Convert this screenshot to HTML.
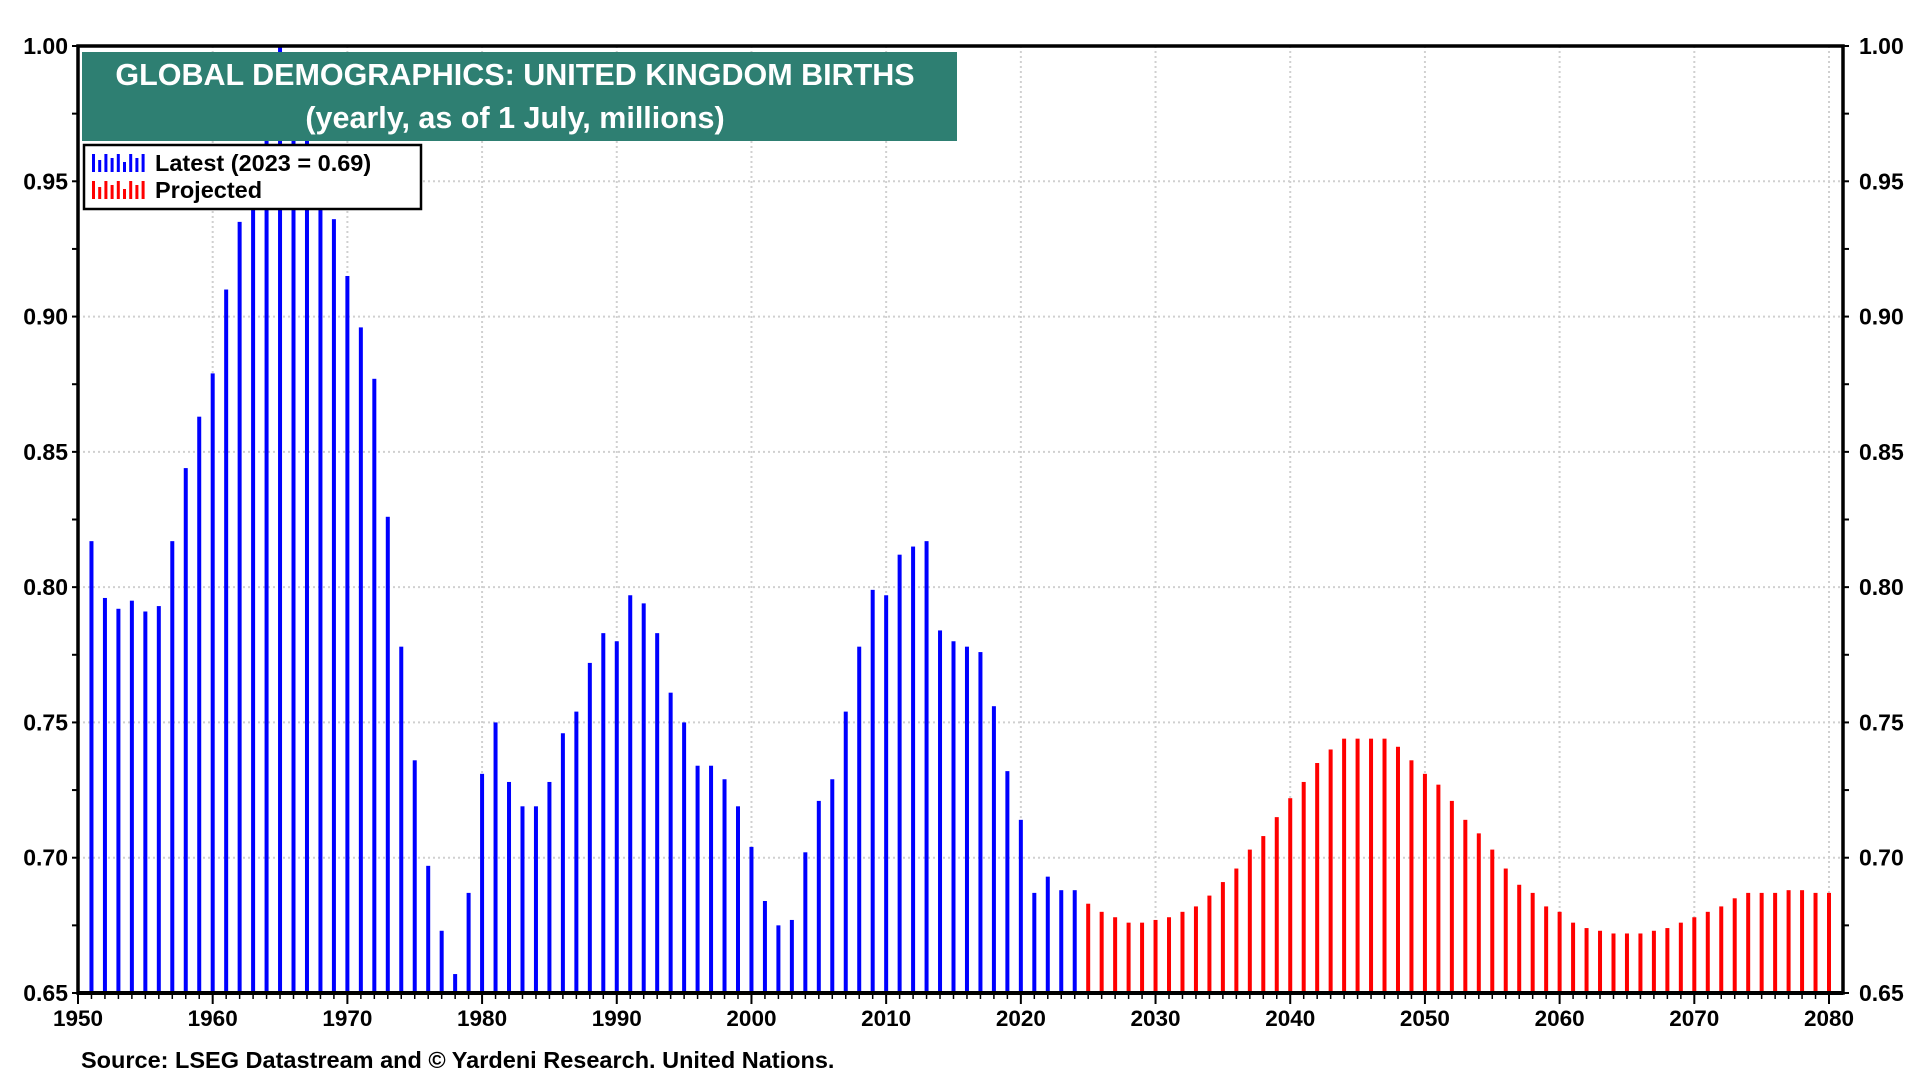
<!DOCTYPE html>
<html><head><meta charset="utf-8">
<style>
html,body{margin:0;padding:0;background:#fff;}
svg{display:block;font-family:"Liberation Sans",Arial,sans-serif;font-weight:bold;}
</style></head>
<body>
<svg id="chart" width="1920" height="1080" xmlns="http://www.w3.org/2000/svg">
<g id="grid"></g>
<g id="bars"></g>
<g id="axes"></g>
<g>
<rect x="82" y="52" width="875" height="89" fill="#2e7f72"/>
<text x="515" y="85" fill="#fff" font-size="30.5" text-anchor="middle">GLOBAL DEMOGRAPHICS: UNITED KINGDOM BIRTHS</text>
<text x="515" y="128" fill="#fff" font-size="30.5" text-anchor="middle">(yearly, as of 1 July, millions)</text>
</g>
<g>
<rect x="84" y="145" width="337" height="64" fill="#fff" stroke="#000" stroke-width="2.5"/>
<g id="legIcons"></g>
<text x="155" y="171" font-size="23.5">Latest (2023 = 0.69)</text>
<text x="155" y="198" font-size="23.5">Projected</text>
</g>
<text x="81" y="1068" font-size="23.5">Source: LSEG Datastream and © Yardeni Research. United Nations.</text>
</svg>
<script>
const latestYears = [];
for (let y = 1951; y <= 2024; y++) latestYears.push(y);
const latestValues = [0.817,0.796,0.792,0.795,0.791,0.793,0.817,0.844,0.863,0.879,0.910,0.935,0.960,0.985,1.000,0.980,0.965,0.945,0.936,0.915,0.896,0.877,0.826,0.778,0.736,0.697,0.673,0.657,0.687,0.731,0.750,0.728,0.719,0.719,0.728,0.746,0.754,0.772,0.783,0.780,0.797,0.794,0.783,0.761,0.750,0.734,0.734,0.729,0.719,0.704,0.684,0.675,0.677,0.702,0.721,0.729,0.754,0.778,0.799,0.797,0.812,0.815,0.817,0.784,0.780,0.778,0.776,0.756,0.732,0.714,0.687,0.693,0.688,0.688];
const projYears = [];
for (let y = 2025; y <= 2080; y++) projYears.push(y);
const projValues = [0.683,0.680,0.678,0.676,0.676,0.677,0.678,0.680,0.682,0.686,0.691,0.696,0.703,0.708,0.715,0.722,0.728,0.735,0.740,0.744,0.744,0.744,0.744,0.741,0.736,0.731,0.727,0.721,0.714,0.709,0.703,0.696,0.690,0.687,0.682,0.680,0.676,0.674,0.673,0.672,0.672,0.672,0.673,0.674,0.676,0.678,0.680,0.682,0.685,0.687,0.687,0.687,0.688,0.688,0.687,0.687];
const yTicks = [0.65,0.70,0.75,0.80,0.85,0.90,0.95,1.00];
const xTicks = [1950,1960,1970,1980,1990,2000,2010,2020,2030,2040,2050,2060,2070,2080];

const X0=78, X1=1843, Y0=46, Y1=993;
const xScale = yr => 78 + (yr-1950)*(1829-78)/130;
const yScale = v => Y1 - (v-0.65)/(0.35)*(Y1-Y0);
const NS="http://www.w3.org/2000/svg";
function mk(tag, attrs, parent){const e=document.createElementNS(NS,tag);for(const k in attrs)e.setAttribute(k,attrs[k]);parent.appendChild(e);return e;}
const grid=document.getElementById('grid'), bars=document.getElementById('bars'), axes=document.getElementById('axes');

yTicks.forEach(v=>{
  const y=yScale(v);
  if(v>0.65&&v<1){const l=mk('line',{x1:X0,x2:X1,y1:y,y2:y,stroke:'#d0d0d0','stroke-width':2,'stroke-dasharray':'2,3'},grid);
  
  }
  const tl=mk('text',{x:68,y:y+8,'font-size':23,'text-anchor':'end'},axes);tl.textContent=v.toFixed(2);
  
  
  const tr=mk('text',{x:1859,y:y+8,'font-size':23},axes);tr.textContent=v.toFixed(2);
  
  
});
for(let v=0.65;v<=1.0001;v+=0.025){const y=yScale(v);
  mk('line',{x1:X0-6,x2:X0,y1:y,y2:y,stroke:'#000','stroke-width':2},axes);
  mk('line',{x1:X1,x2:X1+6,y1:y,y2:y,stroke:'#000','stroke-width':2},axes);}
xTicks.forEach(yr=>{
  const x=xScale(yr);
  if(yr>1950){const l=mk('line',{x1:x,x2:x,y1:Y0,y2:Y1,stroke:'#d0d0d0','stroke-width':2,'stroke-dasharray':'2,3'},grid);
  
  }
  mk('line',{x1:x,x2:x,y1:Y1,y2:Y1+11,stroke:'#000','stroke-width':2},axes);
  const t=mk('text',{x:x,y:1026,'font-size':22.5,'text-anchor':'middle'},axes);t.textContent=yr;
  
  
});
for(let yr=1950;yr<=2080;yr++){const x=xScale(yr);mk('line',{x1:x,x2:x,y1:Y1,y2:Y1+6,stroke:'#000','stroke-width':1.5},axes);}

function drawBars(years, vals, color, name){
  years.forEach((yr,i)=>{
    const x=xScale(yr), y=yScale(vals[i]);
    const r=mk('rect',{x:x-2,y:y,width:4,height:Y1-y,fill:color},bars);
    
    
  });
}
drawBars(latestYears, latestValues, '#0000ff', 'bar-latest');
drawBars(projYears, projValues, '#ff0000', 'bar-projected');

mk('path',{d:`M${X0} ${Y1} L${X0} ${Y0} L${X1} ${Y0} L${X1} ${Y1} Z`,fill:'none',stroke:'#000','stroke-width':3.5},axes);
mk('line',{x1:X0,x2:X1,y1:Y1,y2:Y1,stroke:'#000','stroke-width':4},axes);

const leg=document.getElementById('legIcons');
const iconH=[18,12,18,14,18,10,18,14,18];
[['#0000ff',172],['#ff0000',199]].forEach(([c,base])=>{
  iconH.forEach((h,i)=>{mk('rect',{x:92+i*6.2,y:base-h,width:3,height:h,fill:c},leg);});
});
</script>
</body></html>
